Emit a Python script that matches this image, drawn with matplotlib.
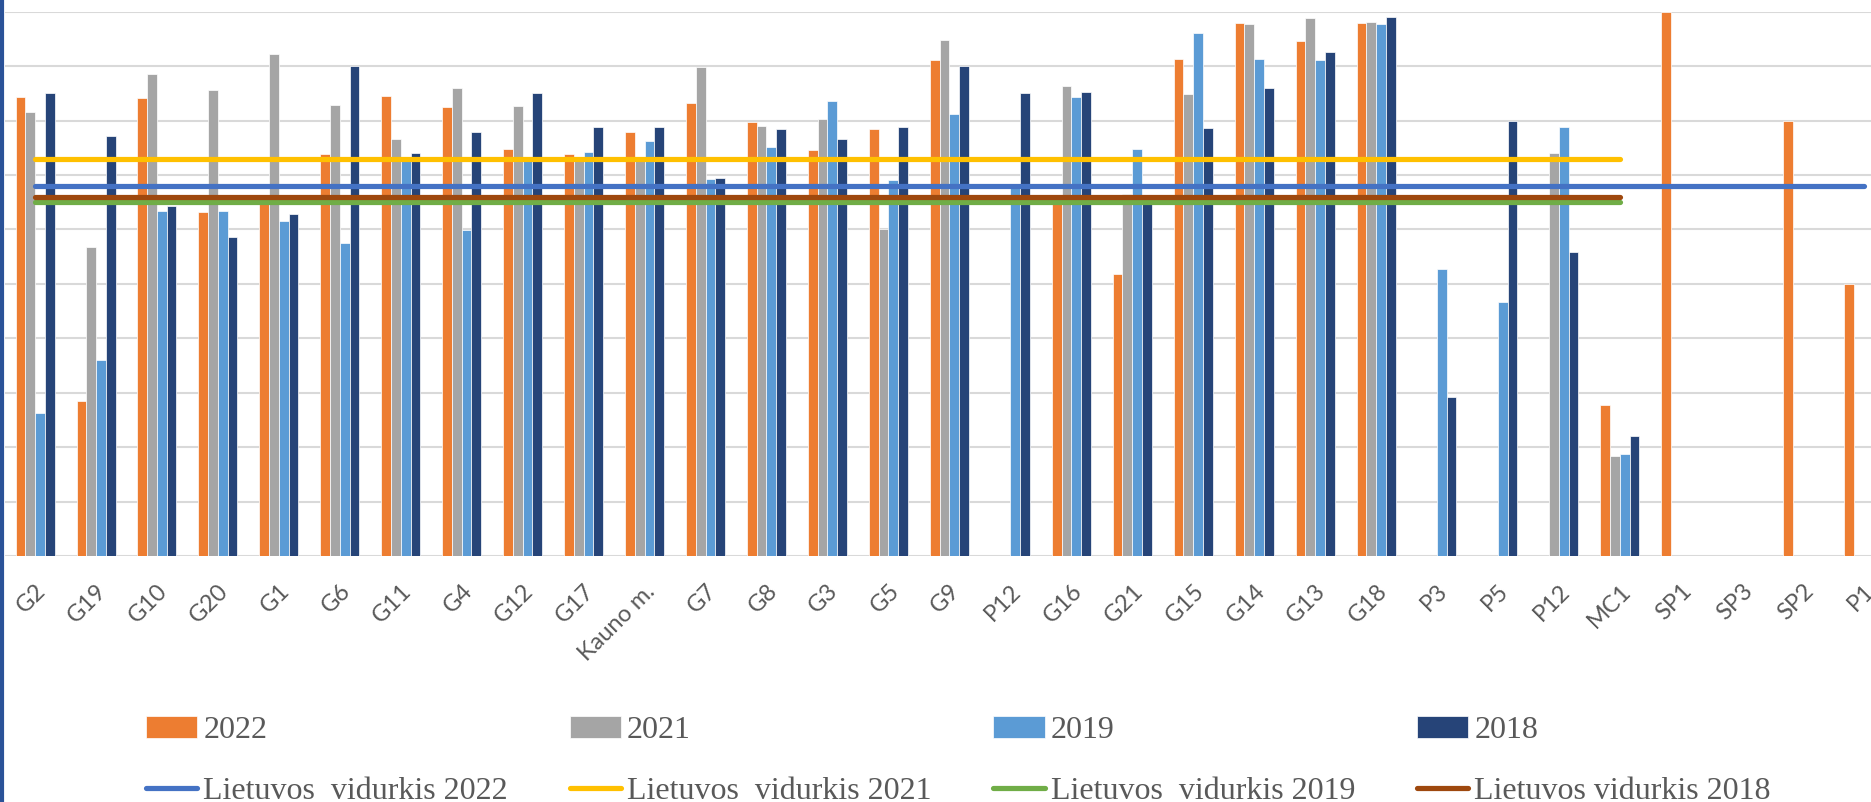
import numpy as np
from matplotlib import pyplot as plt
from matplotlib.lines import Line2D

nan = np.nan

kategorijos = ["G2", "G19", "G10", "G20", "G1", "G6", "G11", "G4", "G12", "G17",
               "Kauno m.", "G7", "G8", "G3", "G5", "G9", "P12", "G16", "G21", "G15",
               "G14", "G13", "G18", "P3", "P5", "P12", "MC1", "SP1", "SP3", "SP2", "P1"]

v2022 = [84.3, 28.4, 84.1, 63.3, 66.0, 73.9, 84.5, 82.5, 74.7, 73.8,
         77.9, 83.3, 79.7, 74.6, 78.5, 91.1, nan, 65.8, 51.8, 91.4,
         98.0, 94.7, 98.0, nan, nan, nan, 27.8, 100.0, nan, 80.0, 50.0]
v2021 = [81.5, 56.8, 88.5, 85.6, 92.3, 82.9, 76.6, 86.0, 82.7, 73.0,
         73.0, 89.8, 79.1, 80.3, 60.0, 94.8, nan, 86.4, 66.6, 84.9,
         97.7, 98.8, 98.2, nan, nan, 74.1, 18.4, nan, nan, nan, nan]
v2019 = [26.2, 36.0, 63.4, 63.4, 61.6, 57.6, 72.5, 59.9, 73.0, 74.3,
         76.3, 69.3, 75.2, 83.7, 69.1, 81.3, 68.0, 84.4, 74.8, 96.1,
         91.3, 91.1, 97.7, 52.8, 46.6, 78.8, 18.7, nan, nan, nan, nan]
v2018 = [85.0, 77.2, 64.4, 58.7, 62.9, 90.0, 74.0, 77.9, 85.0, 78.9,
         78.9, 69.4, 78.5, 76.6, 78.9, 90.0, 85.0, 85.2, 65.5, 78.7,
         86.0, 92.6, 99.1, 29.3, 79.9, 55.8, 22.0, nan, nan, nan, nan]

# Lietuvos vidurkiai ir paskutine kategorija, iki kurios eina linija
vidurkiai = [68.0, 73.0, 65.0, 66.0]
vidurkiu_pabaiga = ["P1", "MC1", "MC1", "MC1"]

metai = ["2022", "2021", "2019", "2018"]
stulpeliu_spalvos = ["#ED7D31", "#A5A5A5", "#5B9BD5", "#264478"]
liniju_spalvos = ["#4472C4", "#FFC000", "#70AD47", "#9E480E"]
liniju_pavadinimai = ["Lietuvos  vidurkis 2022", "Lietuvos  vidurkis 2021",
                      "Lietuvos  vidurkis 2019", "Lietuvos vidurkis 2018"]

W, H = 1871, 802
fig = plt.figure(figsize=(W / 100, H / 100), dpi=100)
ax = fig.add_axes([4.6 / W, 246 / H, 1889.5 / W, 544.2 / H])

x = np.arange(len(kategorijos))
plotis = 0.16
stulpeliai = []
for i, (reiksmes, spalva) in enumerate(zip([v2022, v2021, v2019, v2018], stulpeliu_spalvos)):
    b = ax.bar(x + (i - 1.5) * plotis, reiksmes, width=plotis, color=spalva,
               edgecolor="white", linewidth=0.5, zorder=2)
    stulpeliai.append(b)

linijos = []
for v, pab, spalva in zip(vidurkiai, vidurkiu_pabaiga, liniju_spalvos):
    gal = len(kategorijos) - 1 - kategorijos[::-1].index(pab)
    ln, = ax.plot([0, gal], [v, v], color=spalva, lw=3.75,
                  solid_capstyle="round", zorder=3)
    linijos.append(ln)

ax.set_xlim(-0.5, len(kategorijos) - 0.5)
ax.set_ylim(0, 100)
ax.set_yticks(range(0, 101, 10))
ax.yaxis.grid(True, color="#D9D9D9", linewidth=1.5, zorder=0)
ax.set_axisbelow(True)
for s in ax.spines.values():
    s.set_visible(False)
ax.tick_params(left=False, labelleft=False, bottom=False, pad=14)
ax.set_xticks(x)
ax.set_xticklabels(kategorijos, rotation=45, ha="right", va="top",
                   rotation_mode="anchor", fontsize=17, family="Lato", color="#595959")

rankenos = []
etiketes = []
for b, ln, m, pav in zip(stulpeliai, linijos, metai, liniju_pavadinimai):
    rankenos += [b, ln]
    etiketes += [m, pav]

fig.legend(rankenos, etiketes, loc="upper left", bbox_to_anchor=(146 / W, 1 - 716 / H),
           ncol=4, frameon=False, borderpad=0, borderaxespad=0,
           handlelength=1.6, handleheight=0.7, handletextpad=0.19,
           columnspacing=1.94, labelspacing=0.97,
           prop={"family": "Liberation Serif", "size": 23}, labelcolor="#595959")

# tamsi linija kairiajame krašte
fig.add_artist(Line2D([2 / W, 2 / W], [0, 1], color="#2A5298", lw=3, transform=fig.transFigure))

fig.savefig("out.png", dpi=100)
